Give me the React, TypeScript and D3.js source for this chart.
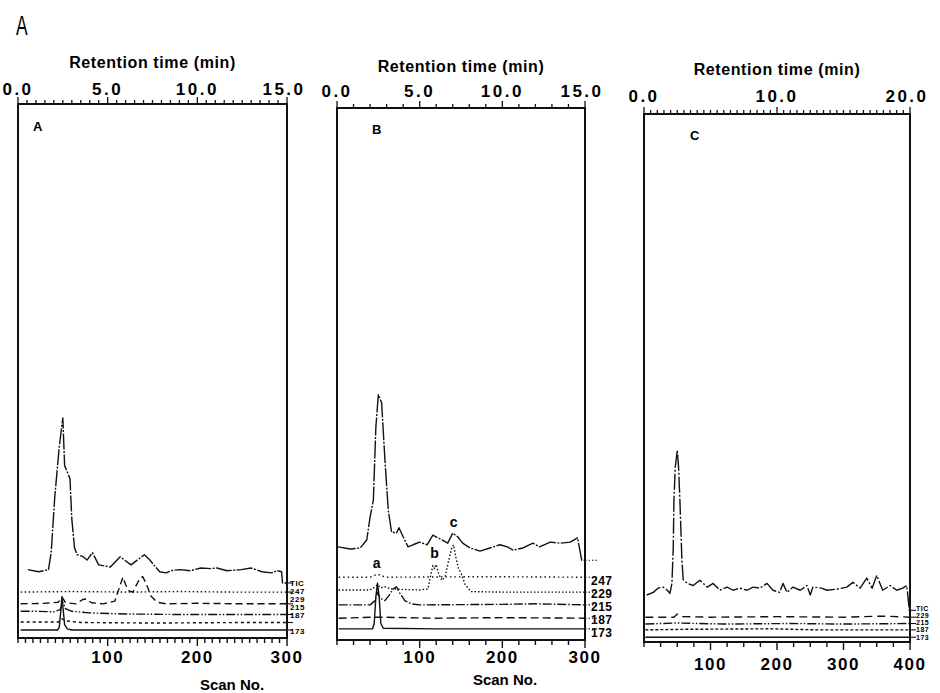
import React from 'react';
import * as d3 from 'd3';

type Pt = [number, number];

// trace order in every panel: TIC, m/z 247, 229, 215, 187, 173
const traceNames = ['TIC', '247', '229', '215', '187', '173'];

// ---- panel A (scan, intensity above own baseline) ----
const aTic: Pt[] = [
  [11, 0.4], [23, 0], [34, 0.4], [37, 3.6], [41, 14.0], [46, 23.4], [50, 28.8], [52, 19.9],
  [58, 17.4], [60, 9.9], [63, 4.5], [66, 3.2], [72, 2.9], [77, 2.2], [83, 3.6], [90, 1.3],
  [103, 0.9], [114, 2.8], [126, 1.3], [141, 3.2], [147, 2.2], [158, 0], [165, -0.2], [173, 0.3],
  [181, 0.4], [192, 0.2], [204, 0.7], [215, 0.6], [222, 0.7], [233, 0.2], [249, 0.4], [260, 0.7],
  [272, 0], [283, -0.2], [289, 0.2], [294, 0], [295, -2.1], [300, -2.1],
];
const a247: Pt[] = [[3, 0], [60, 0.1], [120, 0], [180, 0.1], [240, 0], [300, 0]];
const a229: Pt[] = [
  [3, 0], [30, 0.1], [45, 0.3], [49, 1.3], [53, 0.2], [65, 0], [72, 0.8], [76, 0.9], [82, 0.2],
  [95, 0], [108, 0.5], [113, 3.0], [117, 5.0], [120, 3.6], [124, 2.4], [128, 2.2], [132, 3.5],
  [136, 4.8], [139, 5.1], [143, 3.8], [148, 1.5], [155, 0.3], [165, 0], [200, 0.1], [250, 0], [300, 0],
];
const a215: Pt[] = [
  [3, 0.3], [20, 0.3], [40, 0.2], [47, 0.6], [50, 2.0], [53, 0.8], [60, 0.3], [80, 0],
  [120, -0.2], [180, -0.3], [240, -0.3], [300, -0.3],
];
const a187: Pt[] = [[3, 0], [45, 0], [49, 0.6], [54, 0.2], [70, -0.1], [150, -0.2], [250, -0.1], [300, -0.1]];
const a173: Pt[] = [
  [3, 0], [44, 0], [46, 0.5], [48, 4.0], [49, 6.2], [50, 4.5], [52, 1.0], [55, 0.2], [60, 0],
  [150, 0], [300, 0],
];
const aOffsets = [12.4, 8.6, 6.4, 4.7, 3.0, 1.5];

// ---- panel B ----
const bTic: Pt[] = [
  [1, 0.2], [16, -0.2], [28, 0], [36, 1.5], [40, 5.8], [44, 9.0], [47, 22.7], [50, 28.8],
  [54, 27.3], [58, 16.5], [62, 7.1], [66, 3.0], [72, 2.8], [75, 3.8], [80, 2.1], [86, 0.2],
  [92, 0.6], [100, 1.1], [109, 0.6], [116, 2.4], [127, 1.5], [134, 0.9], [140, 2.8], [146, 2.1],
  [152, 0.9], [161, 0], [173, -0.6], [185, 0], [197, 0.6], [206, 0.2], [213, -0.4], [225, 0],
  [237, 0.9], [245, 0.2], [258, 1.1], [270, 0.9], [282, 1.1], [291, 1.9], [296, -2.3], [300, -2.3],
];
const b247: Pt[] = [[2, 0], [40, 0], [46, 0.4], [49, 0.6], [53, 0.3], [60, 0], [180, 0.1], [300, 0]];
const b229: Pt[] = [
  [2, 0], [40, 0], [46, 0.6], [49, 1.0], [53, 0.4], [58, 0.6], [65, 0.2], [100, 0], [110, 0.2],
  [113, 2.5], [116, 4.6], [118, 4.0], [120, 4.8], [123, 3.0], [127, 1.8], [131, 2.6], [135, 5.5],
  [139, 8.0], [141, 8.5], [144, 6.0], [147, 4.0], [150, 3.2], [155, 1.0], [162, -0.3], [200, -0.4],
  [300, -0.4],
];
const b215: Pt[] = [
  [2, 0], [40, 0], [46, 0.8], [49, 2.4], [52, 1.3], [58, 0.8], [63, 1.8], [68, 3.0], [72, 3.4],
  [76, 2.2], [82, 0.8], [90, 0.2], [100, 0], [200, 0.1], [240, 0.2], [300, 0],
];
const b187: Pt[] = [[2, 0], [48, 0.2], [120, 0], [200, 0.1], [300, 0]];
const b173: Pt[] = [
  [2, 0], [43, 0], [45, 1], [47, 6], [49, 8.6], [51, 6], [53, 1], [56, 0.1], [120, 0], [300, 0],
];
const bOffsets = [17.3, 11.8, 9.4, 6.6, 4.1, 2.1];
// peak letters in B: [letter, scan, trace index, intensity at which it sits]
const bPeakMarks: [string, number, number, number][] = [
  ['a', 48, 1, 0.6],
  ['b', 118, 2, 4.9],
  ['c', 141, 0, 2.8],
];

// ---- panel C ----
const cTic: Pt[] = [
  [4, -0.9], [14, -0.4], [21, 0.4], [29, 0.6], [35, 0], [39, -0.6], [42, 1.3], [44, 8.1],
  [45, 17.0], [47, 23.3], [50, 26.5], [52, 23.3], [54, 17.0], [57, 5.7], [59, 2.0], [65, 1.3],
  [74, 0.9], [84, 1.9], [95, 0.6], [104, 1.3], [114, 0], [125, 0.6], [134, 0], [144, 0.4],
  [155, 0], [164, 0.6], [174, 0.4], [185, 1.3], [194, 0], [204, -0.4], [209, 1.3], [215, -0.4],
  [224, 0.6], [235, 0], [245, 0.9], [250, -0.9], [254, 0.6], [267, 0.4], [275, 0], [290, 0.2],
  [305, 0.6], [314, 1.5], [325, 0.4], [335, 2.3], [343, 0.4], [350, 2.8], [359, 0], [370, 0.9],
  [380, 0], [389, 0.4], [395, 0.9], [397, -1.3], [399, -3.8], [400, -3.8],
];
const c229: Pt[] = [[2, 0], [45, 0], [50, 0.6], [56, 0.1], [100, 0], [200, 0.1], [300, 0], [360, 0.2], [400, 0]];
const c215: Pt[] = [[2, 0], [50, 0.2], [120, 0], [220, 0.1], [300, 0], [400, 0.1]];
const c187: Pt[] = [[2, 0], [60, 0.1], [190, 0.2], [260, 0], [400, 0]];
const c173: Pt[] = [[2, 0], [400, 0]];
const cOffsets = [9.8, 4.7, 3.4, 2.3, 0.9];

const abTimeTicks = [0, 5, 10, 15];
const cTimeTicks = [0, 10, 20];
const abScanTicks = [100, 200, 300];
const cScanTicks = [100, 200, 300, 400];

const FONT = '"Liberation Sans", Arial, Helvetica, sans-serif';

const panels = [
  {
    key: 'A', x0: 18, x1: 287, y0: 104, y1: 638, scanMax: 300, timeMax: 15,
    timeStep: 0.5, scanStep: 300 / 36, timeTicks: abTimeTicks, scanTicks: abScanTicks,
    titleY: 68, topLabY: 95, botLabY: 663, scanTitle: { x: 232, y: 690 },
    letter: { x: 33, y: 131 },
    traces: [aTic, a247, a229, a215, a187, a173], offsets: aOffsets, names: traceNames,
    dash: ['16,1.5,2,1.5', '1.5,2.5', '7,4', '9,2,1.5,2,1.5,2', '3,3', null],
    labels: [586, 594, 602, 610, 618, 634], labelX: 290, labelSize: 8, lead: 6,
    marks: [],
  },
  {
    key: 'B', x0: 337, x1: 585, y0: 108, y1: 640, scanMax: 300, timeMax: 15,
    timeStep: 1, scanStep: 20, timeTicks: abTimeTicks, scanTicks: abScanTicks,
    titleY: 72, topLabY: 97, botLabY: 663, scanTitle: { x: 505, y: 685 },
    letter: { x: 372, y: 134 },
    traces: [bTic, b247, b229, b215, b187, b173], offsets: bOffsets, names: traceNames,
    dash: ['18,1.5,2,1.5', '1.5,3', '1.5,2', '9,2,1.5,2', '8,4', null],
    labels: [null, 585, 598, 611, 624, 637], labelX: 591, labelSize: 12, lead: 14,
    marks: bPeakMarks,
  },
  {
    key: 'C', x0: 644, x1: 910, y0: 114, y1: 642, scanMax: 400, timeMax: 20,
    timeStep: 0.5, scanStep: 25, timeTicks: cTimeTicks, scanTicks: cScanTicks,
    titleY: 75, topLabY: 102, botLabY: 670, scanTitle: null,
    letter: { x: 690, y: 140 },
    traces: [cTic, c229, c215, c187, c173], offsets: cOffsets,
    names: ['TIC', '229', '215', '187', '173'],
    dash: ['16,2,2,2', '8,5', '9,2,1.5,2,1.5,2', '3,2', null],
    labels: [611, 618, 625, 632, 640], labelX: 916, labelSize: 7, lead: 6,
    marks: [],
  },
];

const Panel = ({ p }: { p: any }) => {
  const x = d3.scaleLinear().domain([0, p.scanMax]).range([p.x0, p.x1]);
  const t = d3.scaleLinear().domain([0, p.timeMax]).range([p.x0, p.x1]);
  const y = d3.scaleLinear().domain([0, 100]).range([p.y1, p.y0]);
  const fmt = d3.format('.1f');

  const timeMinor = d3.range(0, p.timeMax + 0.001, p.timeStep);
  const scanMinor = d3.range(0, p.scanMax + 0.001, p.scanStep);

  return (
    <g>
      <text x={(p.x0 + p.x1) / 2} y={p.titleY} textAnchor="middle" fontFamily={FONT}
        fontWeight="bold" fontSize={16} letterSpacing={0.6}>Retention time (min)</text>
      {p.timeTicks.map((v: number, i: number) => (
        <text key={'tl' + v} x={t(v) + (i === p.timeTicks.length - 1 ? -3 : 0)} y={p.topLabY}
          textAnchor="middle" fontFamily={FONT}
          fontWeight="bold" fontSize={17} letterSpacing={2.5}>{fmt(v)}</text>
      ))}
      {timeMinor.map((v: number, i: number) => {
        const major = p.timeTicks.includes(Math.round(v * 10) / 10);
        return <line key={'tt' + i} x1={t(v)} x2={t(v)} y1={p.y0} y2={p.y0 - (major ? 7 : 4)}
          stroke="#111" strokeWidth={1.3} />;
      })}
      {scanMinor.map((v: number, i: number) => {
        const major = p.scanTicks.includes(Math.round(v));
        return <line key={'st' + i} x1={x(v)} x2={x(v)} y1={p.y1} y2={p.y1 + (major ? 8 : 5)}
          stroke="#111" strokeWidth={1.4} />;
      })}
      {p.scanTicks.map((v: number) => (
        <text key={'sl' + v} x={x(v)} y={p.botLabY} textAnchor="middle" fontFamily={FONT}
          fontWeight="bold" fontSize={17} letterSpacing={1.5}>{v}</text>
      ))}
      {p.scanTitle && (
        <text x={p.scanTitle.x} y={p.scanTitle.y} textAnchor="middle" fontFamily={FONT}
          fontWeight="bold" fontSize={15}>Scan No.</text>
      )}
      <text x={p.letter.x} y={p.letter.y} fontFamily={FONT} fontWeight="bold" fontSize={13}>{p.key}</text>

      {p.traces.map((tr: Pt[], i: number) => {
        const off = p.offsets[i];
        const line = d3.line<Pt>().x((d) => x(d[0])).y((d) => y(off + d[1]));
        const last = tr[tr.length - 1];
        const ly = y(off + last[1]);
        return (
          <g key={'tr' + i}>
            <path d={line(tr) || ''} fill="none" stroke="#111" strokeWidth={1.4}
              strokeDasharray={p.dash[i] || undefined} strokeLinejoin="round" />
            {p.labels[i] !== null && (
              <>
                <line x1={p.x1} x2={p.x1 + p.lead} y1={ly} y2={ly} stroke="#111" strokeWidth={1.1}
                  strokeDasharray={p.key === 'B' ? '1.5,2' : undefined} />
                <text x={p.labelX} y={p.labels[i]} fontFamily={FONT} fontWeight="bold"
                  fontSize={p.labelSize} letterSpacing={0.5}>{p.names[i]}</text>
              </>
            )}
            {p.labels[i] === null && (
              <line x1={p.x1} x2={p.x1 + p.lead} y1={ly} y2={ly} stroke="#111" strokeWidth={1.1}
                strokeDasharray="1.5,2" />
            )}
          </g>
        );
      })}

      {p.marks.map(([txt, scan, ti, v]: [string, number, number, number]) => (
        <text key={'pk' + txt} x={x(scan)} y={y(p.offsets[ti] + v) - 6} textAnchor="middle"
          fontFamily={FONT} fontWeight="bold" fontSize={14}>{txt}</text>
      ))}

      <rect x={p.x0} y={p.y0} width={p.x1 - p.x0} height={p.y1 - p.y0} fill="none"
        stroke="#111" strokeWidth={2} />
    </g>
  );
};

export default function App() {
  return (
    <div style={{ position: 'absolute', left: 0, top: 0 }}>
      <svg width={940} height={693} style={{ display: 'block', background: '#fff' }}>
        <text x={16} y={35} fontFamily={FONT} fontSize={28}
          transform="translate(16,35) scale(0.62,1) translate(-16,-35)">A</text>
        {panels.map((p) => <Panel key={p.key} p={p} />)}
      </svg>
    </div>
  );
}
